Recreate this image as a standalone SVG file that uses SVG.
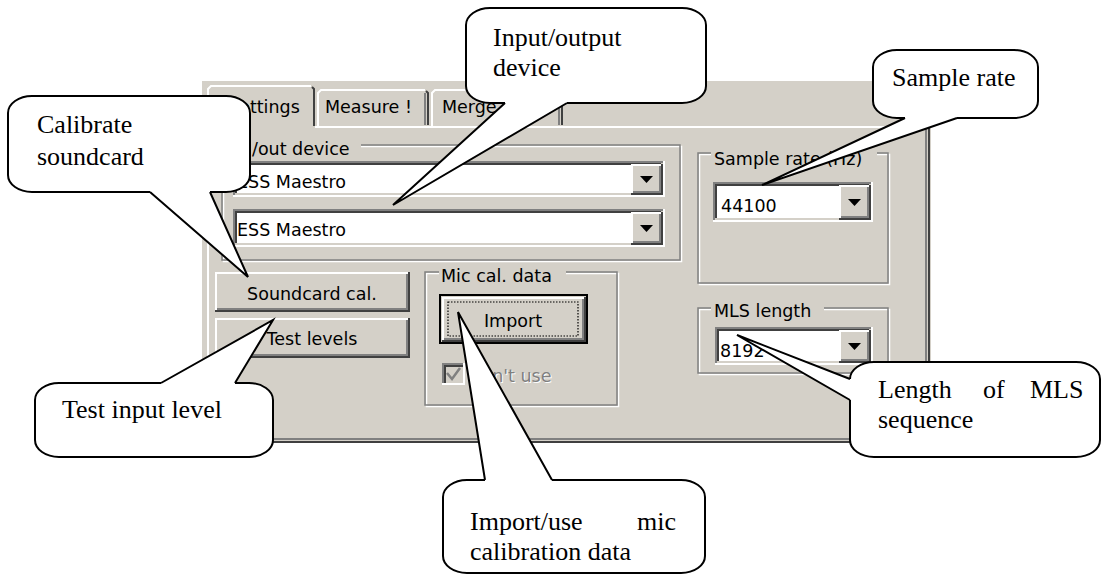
<svg xmlns="http://www.w3.org/2000/svg" width="1103" height="574" viewBox="0 0 1103 574">
<style>
.ui{font-family:"DejaVu Sans","Liberation Sans",sans-serif;font-size:17.5px;fill:#000}
.co{font-family:"Liberation Serif","Times New Roman",serif;font-size:26px;fill:#000}
.cb{fill:#fff;stroke:#000;stroke-width:2;stroke-linejoin:round}
.tail{fill:#fff;stroke:#000;stroke-width:2;stroke-linejoin:miter}
.bg{fill:#d4d0c8}
.w{fill:none;stroke:#fff;stroke-width:2}
.g{fill:none;stroke:#808080;stroke-width:2}
.d{fill:none;stroke:#404040;stroke-width:2}
.lg{fill:none;stroke:#d4d0c8;stroke-width:2}
.ew{fill:none;stroke:#fff;stroke-width:1.5}
.eg{fill:none;stroke:#808080;stroke-width:1.5}
.arr{fill:#000}
</style>
<rect width="1103" height="574" fill="#fff"/>
<g id="window">
  <rect class="bg" x="202" y="81" width="729" height="362"/>
  <path class="bg" d="M208,127 V89 L211,86 H311 L314,89 V127 Z"/>
  <path class="w" d="M208,127 V89 L211,86 H311"/>
  <path class="d" d="M312,87 L314,89 V126"/>
  <path class="w" d="M318,126 V93 L321,90 H425"/>
  <path class="d" d="M426,91 L428,93 V125"/>
  <path class="g" d="M425,93 V125"/>
  <path class="w" d="M432,126 V93 L435,90 H559"/>
  <path class="d" d="M560,91 L562,93 V125"/>
  <path class="g" d="M559,93 V125"/>
  <text class="ui" x="228" y="113">Settings</text>
  <text class="ui" x="325" y="113">Measure !</text>
  <text class="ui" x="442" y="113">Merge</text>
  <path class="w" d="M207,127 H209 M315,127 H927"/>
  <path class="w" d="M208,126 V441"/>
  <path class="g" d="M926,128 V439 H209"/>
  <path class="d" d="M929,126 V442 H207"/>

  <rect class="ew" x="223.5" y="146.5" width="458" height="115"/>
  <rect class="eg" x="222" y="145" width="458" height="115"/>
  <rect class="bg" x="230" y="138" width="131" height="16"/>
  <text class="ui" x="252" y="155">/out device</text>
  <rect x="233" y="161" width="432" height="36" fill="#fff"/>
  <path class="g" d="M234,197 V162 H665"/>
  <path class="d" d="M236,195 V164 H663"/>
  <path class="w" d="M233,196 H664 V161"/>
  <path class="lg" d="M235,194 H662 V163"/>
  <text class="ui" x="237" y="188">ESS Maestro</text>
  <rect class="bg" x="631" y="164" width="31" height="30"/>
  <path class="w" d="M632,193 V165 H661"/>
  <path class="d" d="M631,194 H662 V164"/>
  <path class="g" d="M633,192 H660 V166"/>
  <polygon class="arr" points="640,176 653,176 646.5,183"/>
  <rect x="233" y="209" width="432" height="38" fill="#fff"/>
  <path class="g" d="M234,247 V210 H665"/>
  <path class="d" d="M236,245 V212 H663"/>
  <path class="w" d="M233,246 H664 V209"/>
  <path class="lg" d="M235,244 H662 V211"/>
  <text class="ui" x="237" y="236">ESS Maestro</text>
  <rect class="bg" x="631" y="212" width="31" height="32"/>
  <path class="w" d="M632,243 V213 H661"/>
  <path class="d" d="M631,244 H662 V212"/>
  <path class="g" d="M633,242 H660 V214"/>
  <polygon class="arr" points="640,225 653,225 646.5,232"/>

  <rect class="ew" x="699.5" y="154.5" width="190" height="130"/>
  <rect class="eg" x="698" y="153" width="190" height="130"/>
  <rect class="bg" x="711" y="145" width="166" height="16"/>
  <text class="ui" x="714" y="165">Sample rate (Hz)</text>
  <rect x="713" y="182" width="160" height="40" fill="#fff"/>
  <path class="g" d="M714,222 V183 H873"/>
  <path class="d" d="M716,220 V185 H871"/>
  <path class="w" d="M713,221 H872 V182"/>
  <path class="lg" d="M715,219 H870 V184"/>
  <text class="ui" x="721" y="212">44100</text>
  <rect class="bg" x="839" y="185" width="31" height="34"/>
  <path class="w" d="M840,218 V186 H869"/>
  <path class="d" d="M839,219 H870 V185"/>
  <path class="g" d="M841,217 H868 V187"/>
  <polygon class="arr" points="848,199 861,199 854.5,206"/>

  <rect class="ew" x="699.5" y="309.5" width="190" height="65"/>
  <rect class="eg" x="698" y="308" width="190" height="65"/>
  <rect class="bg" x="711" y="300" width="113" height="16"/>
  <text class="ui" x="714" y="317">MLS length</text>
  <rect x="715" y="327" width="158" height="38" fill="#fff"/>
  <path class="g" d="M716,365 V328 H873"/>
  <path class="d" d="M718,363 V330 H871"/>
  <path class="w" d="M715,364 H872 V327"/>
  <path class="lg" d="M717,362 H870 V329"/>
  <text class="ui" x="720" y="357">8192</text>
  <rect class="bg" x="839" y="330" width="31" height="32"/>
  <path class="w" d="M840,361 V331 H869"/>
  <path class="d" d="M839,362 H870 V330"/>
  <path class="g" d="M841,360 H868 V332"/>
  <polygon class="arr" points="848,343 861,343 854.5,350"/>

  <rect class="bg" x="215" y="272" width="195" height="40"/>
  <path class="w" d="M216,311 V273 H409"/>
  <path class="d" d="M215,311 H409 V272"/>
  <path class="g" d="M217,309 H407 V274"/>
  <text class="ui" x="312" y="300" text-anchor="middle">Soundcard cal.</text>
  <rect class="bg" x="215" y="318" width="195" height="40"/>
  <path class="w" d="M216,357 V319 H409"/>
  <path class="d" d="M215,357 H409 V318"/>
  <path class="g" d="M217,355 H407 V320"/>
  <text class="ui" x="312" y="345" text-anchor="middle">Test levels</text>

  <rect class="ew" x="426.5" y="273.5" width="192" height="133"/>
  <rect class="eg" x="425" y="272" width="192" height="133"/>
  <rect class="bg" x="439" y="264" width="127" height="16"/>
  <text class="ui" x="441" y="282">Mic cal. data</text>
  <rect x="440" y="295" width="147" height="48" fill="#d4d0c8" stroke="#000" stroke-width="2"/>
  <path class="w" d="M443,340 V298 H584"/>
  <path class="d" d="M442,341 H585 V297"/>
  <path class="g" d="M444,339 H583 V299"/>
  <rect x="448" y="302" width="130" height="34" fill="none" stroke="#000" stroke-width="1.2" stroke-dasharray="1.5,1.5"/>
  <text class="ui" x="513" y="327" text-anchor="middle">Import</text>
  <rect class="bg" x="442" y="363" width="23" height="22"/>
  <path class="g" d="M443,385 V364 H465"/>
  <path class="d" d="M445,383 V366 H463"/>
  <path class="w" d="M442,384 H464 V363"/>
  <polyline points="447,373 452,379 460,368" fill="none" stroke="#808080" stroke-width="2.5"/>
  <text class="ui" x="469" y="383" style="fill:#fff">Don't use</text>
  <text class="ui" x="468" y="382" style="fill:#808080">Don't use</text>
</g>

<g id="callout-calibrate">
  <path class="cb" d="M150,192 L32,192 A24,17 0 0 1 8,175 L8,113 A24,17 0 0 1 32,96 L226,96 A24,17 0 0 1 250,113 L250,175 A24,17 0 0 1 226,192 L210,192"/>
  <text class="co" x="37" y="133">Calibrate</text>
  <text class="co" x="37" y="165">soundcard</text>
</g>
<g id="callout-device">
  <path class="cb" d="M505,103 L490,103 A24,17 0 0 1 466,86 L466,25 A24,17 0 0 1 490,8 L682,8 A24,17 0 0 1 706,25 L706,86 A24,17 0 0 1 682,103 L567,103"/>
  <text class="co" x="493" y="46">Input/output</text>
  <text class="co" x="493" y="76">device</text>
</g>
<g id="callout-samplerate">
  <path class="cb" d="M905,118 L897,118 A24,17 0 0 1 873,101 L873,67 A24,17 0 0 1 897,50 L1014,50 A24,17 0 0 1 1038,67 L1038,101 A24,17 0 0 1 1014,118 L957,118"/>
  <text class="co" x="892" y="86">Sample rate</text>
</g>
<g id="callout-testlevel">
  <path class="cb" d="M235,383 L249,383 A24,17 0 0 1 273,400 L273,440 A24,17 0 0 1 249,457 L59,457 A24,17 0 0 1 35,440 L35,400 A24,17 0 0 1 59,383 L161,383"/>
  <text class="co" x="62" y="418">Test input level</text>
</g>
<g id="callout-mic">
  <path class="cb" d="M552,480 L681,480 A24,17 0 0 1 705,497 L705,556 A24,17 0 0 1 681,573 L467,573 A24,17 0 0 1 443,556 L443,497 A24,17 0 0 1 467,480 L485,480"/>
  <text class="co" x="470" y="530">Import/use</text>
  <text class="co" x="676" y="530" text-anchor="end">mic</text>
  <text class="co" x="470" y="560">calibration data</text>
</g>
<g id="callout-mls">
  <path class="cb" d="M850,379 A24,17 0 0 1 874,362 L1076,362 A24,17 0 0 1 1100,379 L1100,440 A24,17 0 0 1 1076,457 L874,457 A24,17 0 0 1 850,440 L850,400"/>
  <text class="co" y="398"><tspan x="878">Length</tspan> <tspan x="983">of</tspan> <tspan x="1030">MLS</tspan></text>
  <text class="co" x="878" y="428">sequence</text>
</g>

<g id="connectors">
  <polyline class="tail" points="210,192 248,277 150,192"/>
  <polyline class="tail" points="567,103 393,205 505,103"/>
  <polyline class="tail" points="957,118 762,185 905,118"/>
  <polyline class="tail" points="161,383 273,320 235,383"/>
  <polyline class="tail" points="552,480 458,312 485,480"/>
  <polyline class="tail" points="850,400 737,335 850,379"/>
</g>
</svg>
